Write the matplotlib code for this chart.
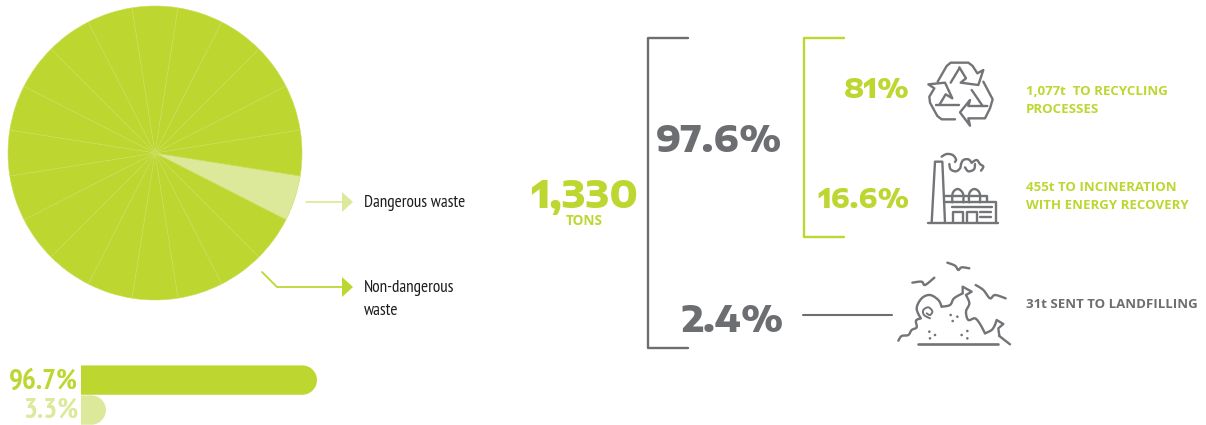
import matplotlib
matplotlib.use("Agg")
import matplotlib.pyplot as plt
import numpy as np
from matplotlib.path import Path
from matplotlib.patches import PathPatch, Polygon, Circle

GREEN = "#bed630"
PALE = "#dde99a"
GRAY = "#6d6e71"
INK = "#1c1c1c"
NARROW = ["PT Sans Narrow", "DejaVu Sans"]
WIDE = ["Encode Sans Expanded", "DejaVu Sans"]
LABEL = ["Open Sans", "DejaVu Sans"]

# Data
pie_slices = [5] * 20
pie_colors = [PALE] + [GREEN] * 19
share_labels = ["96.7%", "3.3%"]
share_values = [96.7, 3.3]
share_colors = [GREEN, PALE]
total_value = "1,330"
total_unit = "TONS"
recovered_share = "97.6%"
landfill_share = "2.4%"
recycling_share = "81%"
incineration_share = "16.6%"

W, H = 1206, 425
fig = plt.figure(figsize=(W / 100, H / 100), dpi=100, facecolor="white")

# Pie of twenty equal wedges
cx, cy, r = 155, 153, 147
ax_pie = fig.add_axes([(cx - r) / W, 1 - (cy + r) / H, 2 * r / W, 2 * r / H])
ax_pie.pie(pie_slices, colors=pie_colors, startangle=-9, counterclock=False, radius=1,
           wedgeprops=dict(edgecolor="#cbdf5c", linewidth=0.4))
ax_pie.set_xlim(-1, 1)
ax_pie.set_ylim(-1, 1)
ax_pie.set_axis_off()

# Share bars: the hidden origin sits under the rounded cap
ax_bar = fig.add_axes([81 / W, 1 - 425 / H, 240 / W, 60.5 / H])
x_scale = 211 / 93.4
x_left = -17.5 / x_scale
ax_bar.set_xlim(x_left, x_left + 240 / x_scale)
ax_bar.set_ylim(1.5, -0.52)
ax_bar.set_axis_off()
y_px = 60.5 / 2.02
for i, (v, c) in enumerate(zip(share_values, share_colors)):
    y0, y1 = i - 0.49, i + 0.49
    rad_x = (y1 - y0) / 2 * y_px / x_scale
    ym = (y0 + y1) / 2
    k = 0.5523
    h = (y1 - y0) / 2
    x1 = v - rad_x
    verts = [(x_left, y0), (x1, y0), (x1 + k * rad_x, y0), (v, ym - k * h), (v, ym),
             (v, ym + k * h), (x1 + k * rad_x, y1), (x1, y1), (x_left, y1), (x_left, y0)]
    codes = [Path.MOVETO, Path.LINETO, Path.CURVE4, Path.CURVE4, Path.CURVE4,
             Path.CURVE4, Path.CURVE4, Path.CURVE4, Path.LINETO, Path.CLOSEPOLY]
    ax_bar.add_patch(PathPatch(Path(verts, codes), facecolor=c, edgecolor="none"))

# Overlay in pixel units for brackets, icons and text
ov = fig.add_axes([0, 0, 1, 1], facecolor="none")
ov.set_xlim(0, W)
ov.set_ylim(H, 0)
ov.set_axis_off()


def line(pts, color=GRAY, lw=1.6, origin=(0, 0), scale=1.0, smooth=False):
    p = np.array(pts, float) * scale + np.array(origin, float)
    if smooth and len(p) > 2:
        q = np.vstack([p[0], p, p[-1]])
        t = np.linspace(0, 1, 8, endpoint=False)[:, None]
        seg = []
        for a, b, c, d in zip(q[:-3], q[1:-2], q[2:-1], q[3:]):
            seg.append(0.5 * (2 * b + (c - a) * t + (2 * a - 5 * b + 4 * c - d) * t ** 2
                              + (3 * b - a - 3 * c + d) * t ** 3))
        seg.append(p[-1:])
        p = np.vstack(seg)
    ov.plot(p[:, 0], p[:, 1], color=color, lw=lw, solid_joinstyle="round",
            solid_capstyle="round")


# Callouts beside the pie
line([(306, 202), (342, 202)], PALE, 1.3)
ov.add_patch(Polygon([(342, 192), (353, 202), (342, 212)], fc=PALE, ec="none"))
line([(262, 272), (277, 287), (342, 287)], GREEN, 1.3)
ov.add_patch(Polygon([(342, 277), (353, 287), (342, 297)], fc=GREEN, ec="none"))
ov.text(364, 203, "Dangerous waste", family=NARROW, fontsize=12.3, color=INK, va="center")
ov.text(364, 288, "Non-dangerous", family=NARROW, fontsize=12.3, color=INK, va="center")
ov.text(364, 311, "waste", family=NARROW, fontsize=12.3, color=INK, va="center")

for y, label, c in zip([382, 411], share_labels, share_colors):
    ov.text(78, y, label, family=NARROW, fontsize=21, fontweight="bold", color=c,
            ha="right", va="center")

# Brackets
line([(688, 38), (648, 38), (648, 348), (688, 348)], GRAY, 1.7)
line([(844, 38), (804, 38), (804, 237), (844, 237)], GREEN, 1.7)
line([(803, 315), (892, 315)], GRAY, 1.5)

# Headline figures
ov.text(638, 197, total_value, family=WIDE, fontsize=27, fontweight=800, color=GREEN,
        ha="right", va="center")
ov.text(584, 221, total_unit, family=LABEL, fontsize=9.8, fontweight="bold", color=GREEN,
        ha="center", va="center")
ov.text(783, 141, recovered_share, family=WIDE, fontsize=25.5, fontweight=800, color=GRAY,
        ha="right", va="center")
ov.text(784, 321, landfill_share, family=WIDE, fontsize=25.5, fontweight=800, color=GRAY,
        ha="right", va="center")
ov.text(910, 90, recycling_share, family=WIDE, fontsize=19, fontweight=800, color=GREEN,
        ha="right", va="center")
ov.text(910, 200, incineration_share, family=WIDE, fontsize=19, fontweight=800, color=GREEN,
        ha="right", va="center")

# Captions
for x, y, s_, c in [
    (1026, 91, "1,077t  TO RECYCLING", GREEN),
    (1026, 109, "PROCESSES", GREEN),
    (1026, 187, "455t TO INCINERATION", GREEN),
    (1026, 205, "WITH ENERGY RECOVERY", GREEN),
    (1026, 304, "31t SENT TO LANDFILLING", GRAY),
]:
    ov.text(x, y, s_, family=LABEL, fontsize=9.5, fontweight="bold", color=c, va="center")

ICON = "#737477"
LW = 1.7

# Recycling icon
o = (900, 40)
s = 1 / 3
for pts in [
    [(113, 125), (140, 78), (152, 68), (205, 68), (218, 78), (232, 100), (250, 90), (235, 135),
     (182, 128), (198, 115), (178, 82)],
    [(178, 85), (152, 128)],
    [(118, 195), (137, 163), (157, 175), (135, 128), (85, 133), (103, 145), (88, 170), (90, 188),
     (112, 228), (125, 238), (165, 238)],
    [(108, 195), (178, 195)],
    [(215, 150), (248, 198)],
    [(262, 198), (205, 198), (210, 180), (180, 217), (210, 257), (205, 235), (255, 235), (270, 205),
     (278, 178), (250, 125)],
]:
    line(pts, ICON, LW, o, s)

# Factory icon
for pts in [
    [(83, 548), (295, 548)],
    [(95, 548), (105, 365), (127, 365), (135, 548)],
    [(135, 468), (262, 468), (262, 487)],
    [(135, 487), (288, 487), (288, 548)],
    [(160, 545), (160, 515), (188, 515), (188, 545)],
    [(202, 545), (202, 515), (230, 515), (230, 545)],
    [(155, 500), (275, 500)],
    [(240, 515), (272, 515)],
    [(240, 532), (272, 532)],
]:
    line(pts, ICON, LW, o, s)
for pts in [
    [(157, 487), (157, 465), (162, 453), (173, 447), (184, 453), (190, 465), (190, 487)],
    [(207, 487), (207, 465), (212, 453), (223, 447), (235, 453), (240, 465), (240, 487)],
    [(125, 350), (140, 342), (158, 345), (168, 358), (165, 366)],
    [(148, 372), (152, 388), (168, 394), (180, 385), (183, 372)],
    [(183, 372), (190, 360), (205, 358), (215, 368)],
    [(195, 382), (205, 394), (222, 388), (225, 372)],
    [(215, 368), (230, 360), (240, 372), (250, 380), (243, 392)],
]:
    line(pts, ICON, LW, o, s, smooth=True)

# Landfill icon
o = (880, 250)
for pts in [
    [(97, 98), (125, 95), (135, 105), (163, 83)],
    [(202, 38), (225, 47), (235, 60), (245, 52), (268, 55)],
    [(287, 105), (310, 120), (330, 145), (345, 135), (377, 145)],
    [(55, 272), (65, 258), (85, 255), (95, 240), (110, 232), (108, 212), (122, 205)],
    [(122, 205), (110, 175), (125, 145), (150, 135), (175, 150), (185, 170)],
    [(185, 170), (210, 165), (222, 145), (248, 130)],
    [(258, 135), (268, 160), (258, 185), (265, 210), (285, 205), (300, 222), (315, 250)],
    [(315, 250), (335, 240), (345, 225)],
    [(358, 258), (390, 283)],
]:
    line(pts, ICON, LW, o, s, smooth=True)
line([(248, 130), (248, 110), (275, 125), (258, 135)], ICON, LW, o, s)
line([(345, 225), (350, 210), (370, 222), (355, 235), (358, 258)], ICON, LW, o, s)
line([(115, 281), (355, 281)], ICON, 1.9, o, s)
line([(150, 205), (132, 195), (130, 180), (145, 172), (157, 184), (150, 195), (140, 190)],
     ICON, 1.4, o, s, smooth=True)
for dx, dy in [(212, 195), (232, 200), (218, 213), (148, 245), (165, 255), (150, 265),
               (262, 243), (245, 255), (262, 265)]:
    ov.add_patch(Circle((o[0] + dx * s, o[1] + dy * s), 1.3, fc=ICON, ec="none"))

fig.savefig("out.png", dpi=100, facecolor="white")
